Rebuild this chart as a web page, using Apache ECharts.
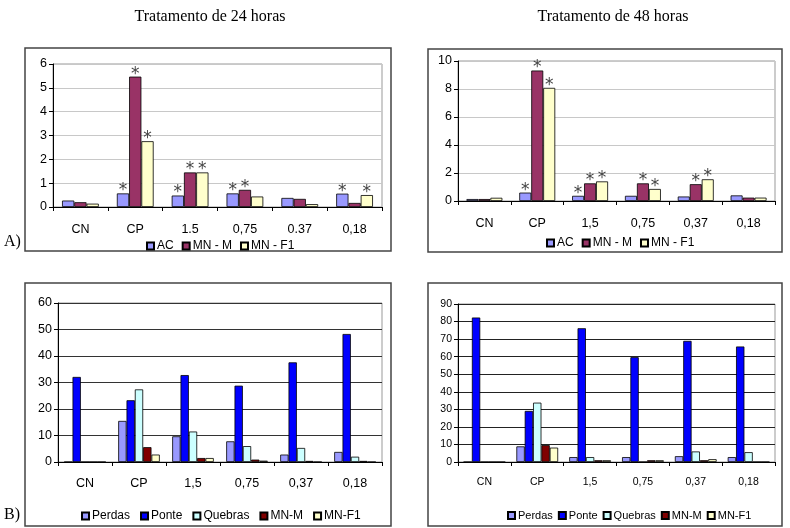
<!DOCTYPE html>
<html>
<head>
<meta charset="utf-8">
<script src="https://cdn.jsdelivr.net/npm/echarts@6/dist/echarts.min.js"></script>
<style>
  html, body { margin: 0; padding: 0; background: #fff; }
  #main { width: 790px; height: 528px; }
</style>
</head>
<body>
<div id="main"></div>
<script>
// categorias
const catA24 = ['CN', 'CP', '1.5', '0,75', '0.37', '0,18']
const catA48 = ['CN', 'CP', '1,5', '0,75', '0,37', '0,18']
const catB = ['CN', 'CP', '1,5', '0,75', '0,37', '0,18']

// A) 24 horas
const ac24 = [0.27, 0.57, 0.48, 0.57, 0.38, 0.56]
const mnM24 = [0.2, 5.47, 1.45, 0.72, 0.34, 0.17]
const mnF24 = [0.14, 2.76, 1.45, 0.44, 0.12, 0.5]
const ac24Star = [0, 1, 1, 1, 0, 1]
const mnM24Star = [0, 1, 1, 1, 0, 0]
const mnF24Star = [0, 1, 1, 0, 0, 1]

// A) 48 horas
const ac48 = [0.14, 0.6, 0.37, 0.37, 0.32, 0.4]
const mnM48 = [0.14, 9.32, 1.26, 1.26, 1.2, 0.24]
const mnF48 = [0.23, 8.08, 1.4, 0.86, 1.55, 0.24]
const ac48Star = [0, 1, 1, 0, 0, 0]
const mnM48Star = [0, 1, 1, 1, 1, 0]
const mnF48Star = [0, 1, 1, 1, 1, 0]

// B) 24 horas
const perdas24 = [0, 15.5, 9.7, 7.8, 2.8, 3.8]
const ponte24 = [32.1, 23.3, 32.8, 28.8, 37.6, 48.3]
const quebras24 = [0, 27.4, 11.5, 6.0, 5.3, 2.0]
const mnmB24 = [0, 5.6, 1.5, 0.9, 0.4, 0.4]
const mnfB24 = [0, 2.8, 1.5, 0.5, 0, 0]

// B) 48 horas
const perdas48 = [0, 8.9, 2.8, 2.8, 3.3, 2.8]
const ponte48 = [82.3, 29.1, 76.2, 59.7, 69.0, 65.8]
const quebras48 = [0, 33.8, 2.8, 0, 6.0, 5.6]
const mnmB48 = [0, 9.6, 1.0, 1.0, 1.0, 0]
const mnfB48 = [0, 8.2, 1.0, 1.0, 1.6, 0]

// ticks dos eixos Y
const yMax = [6, 10, 60, 90]
const yStep = [1, 2, 10, 10]

var chart = echarts.init(document.getElementById('main'))

/** monta dados com asterisco */
function starData(values, stars) {
  return values.map((v, i) => ({
    value: v,
    label: { show: !!(stars && stars[i]) }
  }))
}

const starLabel = {
  show: false,
  position: 'top',
  formatter: '*',
  fontFamily: 'DejaVu Sans',
  fontSize: 17,
  color: '#444',
  distance: -6
}

function barSeries(name, color, values, stars, idx, catGap) {
  return {
    name: name,
    type: 'bar',
    xAxisIndex: idx,
    yAxisIndex: idx,
    barGap: '0%',
    barCategoryGap: catGap,
    itemStyle: { color: color, borderColor: '#000', borderWidth: 0.8 },
    label: starLabel,
    data: starData(values, stars),
    animation: false
  }
}

const grids = [
  { left: 53, top: 64, width: 329, height: 143 },
  { left: 458, top: 61, width: 317, height: 140 },
  { left: 58, top: 303, width: 324, height: 159 },
  { left: 458, top: 304, width: 317, height: 158 }
]

const fontMain = 'Liberation Sans'

function xAxis(idx, data, size, margin) {
  return {
    type: 'category',
    gridIndex: idx,
    data: data,
    axisLine: { lineStyle: { color: '#000', width: 1 } },
    axisTick: { show: true, length: 4, lineStyle: { color: '#000' } },
    axisLabel: { color: '#000', fontFamily: fontMain, fontSize: size, margin: margin }
  }
}

function yAxis(idx, gridColor, size) {
  return {
    type: 'value',
    gridIndex: idx,
    min: 0,
    max: yMax[idx],
    interval: yStep[idx],
    axisLine: { show: true, lineStyle: { color: '#000', width: 1 } },
    axisTick: { show: true, length: 4, lineStyle: { color: '#000' } },
    axisLabel: { color: '#000', fontFamily: fontMain, fontSize: size, margin: 6 },
    splitLine: { show: true, lineStyle: { color: gridColor, width: 1 } }
  }
}

function frame(x, y, w, h) {
  return {
    type: 'rect',
    shape: { x: x, y: y, width: w, height: h },
    style: { fill: 'none', stroke: '#444', lineWidth: 1.5 },
    silent: true
  }
}

function text(x, y, str, size, align) {
  return {
    type: 'text',
    x: x,
    y: y,
    style: {
      text: str,
      fontFamily: 'Liberation Serif',
      fontSize: size,
      fill: '#000',
      align: align || 'center',
      verticalAlign: 'middle'
    },
    silent: true
  }
}

const legendBase = {
  itemWidth: 7,
  itemHeight: 7,
  itemGap: 8,
  icon: 'rect',
  textStyle: { color: '#000', fontFamily: fontMain, fontSize: 12, padding: [0, 0, 0, -2] }
}

var option = {
  backgroundColor: '#fff',
  animation: false,
  grid: grids.map(g => Object.assign({ show: true, borderColor: '#999', borderWidth: 1, backgroundColor: 'transparent' }, g)),
  xAxis: [
    xAxis(0, catA24, 12.5, 16),
    xAxis(1, catA48, 12.5, 16),
    xAxis(2, catB, 12.5, 15),
    xAxis(3, catB, 10.5, 15)
  ],
  yAxis: [
    yAxis(0, '#c8c8c8', 12.5),
    yAxis(1, '#c8c8c8', 12.5),
    yAxis(2, '#333', 12.5),
    yAxis(3, '#222', 10.5)
  ],
  legend: [
    Object.assign({}, legendBase, { data: ['AC', 'MN - M', 'MN - F1'], left: 141, top: 235 }),
    Object.assign({}, legendBase, { data: ['AC', 'MN - M', 'MN - F1'], left: 541, top: 232 }),
    Object.assign({}, legendBase, { data: ['Perdas', 'Ponte', 'Quebras', 'MN-M', 'MN-F1'], left: 76, top: 505, itemGap: 10 }),
    Object.assign({}, legendBase, {
      data: ['Perdas', 'Ponte', 'Quebras', 'MN-M', 'MN-F1'], left: 502, top: 505, itemGap: 5,
      textStyle: { color: '#000', fontFamily: fontMain, fontSize: 11, padding: [0, 0, 0, -2] }
    })
  ],
  series: [
    barSeries('AC', '#9999ff', ac24, ac24Star, 0, '33%'),
    barSeries('MN - M', '#993366', mnM24, mnM24Star, 0, '33%'),
    barSeries('MN - F1', '#ffffcc', mnF24, mnF24Star, 0, '33%'),

    barSeries('AC', '#9999ff', ac48, ac48Star, 1, '32%'),
    barSeries('MN - M', '#993366', mnM48, mnM48Star, 1, '32%'),
    barSeries('MN - F1', '#ffffcc', mnF48, mnF48Star, 1, '32%'),

    barSeries('Perdas', '#9999ff', perdas24, null, 2, '23%'),
    barSeries('Ponte', '#0000ff', ponte24, null, 2, '23%'),
    barSeries('Quebras', '#ccffff', quebras24, null, 2, '23%'),
    barSeries('MN-M', '#800000', mnmB24, null, 2, '23%'),
    barSeries('MN-F1', '#ffffcc', mnfB24, null, 2, '23%'),

    barSeries('Perdas', '#9999ff', perdas48, null, 3, '21%'),
    barSeries('Ponte', '#0000ff', ponte48, null, 3, '21%'),
    barSeries('Quebras', '#ccffff', quebras48, null, 3, '21%'),
    barSeries('MN-M', '#800000', mnmB48, null, 3, '21%'),
    barSeries('MN-F1', '#ffffcc', mnfB48, null, 3, '21%')
  ],
  graphic: [
    frame(25, 48, 366, 203),
    frame(428, 49, 354, 203),
    frame(25, 283, 366, 243),
    frame(428, 283, 354, 243),
    text(210, 17, 'Tratamento de 24 horas', 16),
    text(613, 17, 'Tratamento de 48 horas', 16),
    text(4, 242, 'A)', 16, 'left'),
    text(4, 515, 'B)', 16, 'left')
  ]
}

chart.setOption(option)
</script>
</body>
</html>
